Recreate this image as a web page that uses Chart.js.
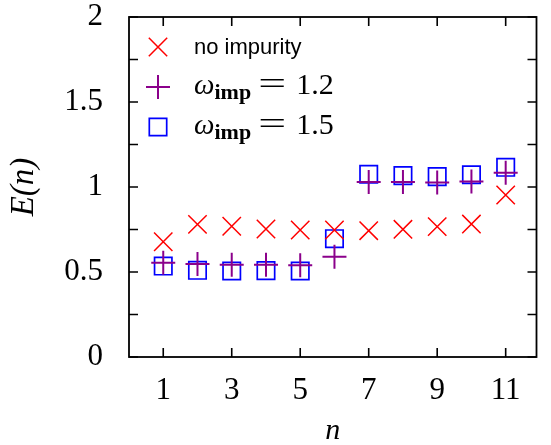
<!DOCTYPE html>
<html lang="en">
<head>
    <meta charset="UTF-8">
    <title>E(n)</title>
    <script src="https://cdn.jsdelivr.net/npm/chart.js@4"></script>
    <style>
        html, body { margin: 0; padding: 0; background: #fff; }
        #wrap { width: 551px; height: 445px; }
    </style>
</head>
<body>
    <div id="wrap"><canvas id="chart"></canvas></div>
    <script>
        // values
        const n = [1, 2, 3, 4, 5, 6, 7, 8, 9, 10, 11];
        const noImpurity = [0.678, 0.78, 0.769, 0.753, 0.747, 0.747, 0.743, 0.751, 0.767, 0.782, 0.953];
        const imp12 = [0.555, 0.547, 0.543, 0.543, 0.539, 0.59, 1.029, 1.029, 1.027, 1.033, 1.084];
        const imp15 = [0.535, 0.51, 0.506, 0.508, 0.506, 0.696, 1.075, 1.067, 1.061, 1.072, 1.116];
        const xTicks = [1, 3, 5, 7, 9, 11];
        const yLabels = [0, 0.5, 1, 1.5, 2];

        const pts = (ys) => n.map((x, i) => ({x: x, y: ys[i]}));

        // inward ticks on all four sides + frame
        const frame = {
            id: 'frame',
            afterDraw(chart) {
                const {ctx, chartArea: a, scales: {x, y}} = chart;
                ctx.save();
                ctx.strokeStyle = '#000';
                ctx.lineWidth = 1.6;
                ctx.beginPath();
                x.ticks.forEach(t => {
                    const px = x.getPixelForValue(t.value);
                    ctx.moveTo(px, a.bottom); ctx.lineTo(px, a.bottom - 9);
                    ctx.moveTo(px, a.top); ctx.lineTo(px, a.top + 9);
                });
                y.ticks.forEach(t => {
                    const py = y.getPixelForValue(t.value);
                    ctx.moveTo(a.left, py); ctx.lineTo(a.left + 9, py);
                    ctx.moveTo(a.right, py); ctx.lineTo(a.right - 9, py);
                });
                ctx.stroke();
                ctx.lineWidth = 1.8;
                ctx.strokeRect(a.left, a.top, a.right - a.left, a.bottom - a.top);
                ctx.restore();
            }
        };

        // legend with subscripts
        const mathLegend = {
            id: 'mathLegend',
            afterDraw(chart) {
                const {ctx, chartArea: a} = chart;
                const rows = [
                    {ds: 0, y: a.top + 30},
                    {ds: 1, y: a.top + 70},
                    {ds: 2, y: a.top + 110}
                ];
                const sx = a.left + 29, tx = a.left + 65;
                ctx.save();
                rows.forEach(r => {
                    const d = chart.data.datasets[r.ds];
                    ctx.strokeStyle = d.borderColor;
                    ctx.fillStyle = 'rgba(0,0,0,0)';
                    ctx.lineWidth = d.borderWidth;
                    Chart.helpers.drawPoint(ctx, {
                        pointStyle: d.pointStyle,
                        radius: d.pointRadius,
                        borderWidth: d.borderWidth
                    }, sx, r.y);
                    ctx.fillStyle = '#000';
                    ctx.textBaseline = 'alphabetic';
                    ctx.textAlign = 'left';
                    if (r.ds === 0) {
                        ctx.font = '22px "Liberation Sans", Arial, sans-serif';
                        ctx.fillText('no impurity', tx, r.y + 7);
                    } else {
                        let cx = tx;
                        const base = r.y + 7;
                        ctx.font = 'italic 29px "Liberation Serif", serif';
                        ctx.fillText('\u03c9', cx, base);
                        cx += ctx.measureText('\u03c9').width;
                        ctx.font = 'bold 22px "Liberation Serif", serif';
                        ctx.fillText('imp', cx, base + 5);
                        cx += ctx.measureText('imp').width + 7;
                        // wide equals sign, stretched sideways
                        ctx.font = '30px "Liberation Serif", serif';
                        ctx.save();
                        ctx.translate(cx, base);
                        ctx.scale(1.65, 1.05);
                        ctx.fillText('=', 0, 0);
                        ctx.restore();
                        cx += 38;
                        ctx.fillText(r.ds === 1 ? '1.2' : '1.5', cx, base);
                    }
                });
                ctx.restore();
            }
        };

        const tickFont = {family: '"Liberation Serif", serif', size: 31};

        new Chart(document.getElementById('chart'), {
            type: 'scatter',
            data: {
                datasets: [
                    {
                        label: 'no impurity',
                        data: pts(noImpurity),
                        pointStyle: 'crossRot',
                        pointRadius: 13,
                        borderColor: '#ff0000',
                        backgroundColor: '#ff0000',
                        borderWidth: 1.5,
                        order: 0
                    },
                    {
                        label: 'omega_imp = 1.2',
                        data: pts(imp12),
                        pointStyle: 'cross',
                        pointRadius: 12,
                        borderColor: '#8b008b',
                        backgroundColor: '#8b008b',
                        borderWidth: 2,
                        order: 1
                    },
                    {
                        label: 'omega_imp = 1.5',
                        data: pts(imp15),
                        pointStyle: 'rect',
                        pointRadius: 12.3,
                        borderColor: '#0000ff',
                        backgroundColor: 'rgba(0,0,0,0)',
                        borderWidth: 1.7,
                        order: 2
                    }
                ]
            },
            options: {
                responsive: true,
                maintainAspectRatio: false,
                animation: false,
                events: [],
                layout: {padding: {top: 17, right: 1, left: 0, bottom: 0}},
                plugins: {legend: {display: false}, tooltip: {enabled: false}},
                scales: {
                    x: {
                        type: 'linear',
                        min: 0,
                        max: 11.9,
                        afterBuildTicks: (s) => { s.ticks = xTicks.map(v => ({value: v})); },
                        afterFit: (s) => { s.height = 88; s.paddingLeft = 0; s.paddingRight = 0; },
                        grid: {display: false, drawTicks: false},
                        border: {display: false},
                        ticks: {color: '#000', font: tickFont, padding: 15, maxRotation: 0, autoSkip: false},
                        title: {
                            display: true, text: 'n', color: '#000',
                            font: {family: '"Liberation Serif", serif', size: 30, style: 'italic'},
                            padding: {top: 0, bottom: -4}
                        }
                    },
                    y: {
                        min: 0,
                        max: 2,
                        ticks: {
                            stepSize: 0.25, color: '#000', font: tickFont, padding: 26,
                            callback: (v) => yLabels.includes(v) ? String(v) : ''
                        },
                        afterFit: (s) => { s.width = 129; s.paddingTop = 0; s.paddingBottom = 0; },
                        grid: {display: false, drawTicks: false},
                        border: {display: false},
                        title: {
                            display: true, text: 'E(n)', color: '#000',
                            font: {family: '"Liberation Serif", serif', size: 33, style: 'italic'},
                            padding: {top: 5, bottom: 0}
                        }
                    }
                }
            },
            plugins: [frame, mathLegend]
        });
    </script>
</body>
</html>
